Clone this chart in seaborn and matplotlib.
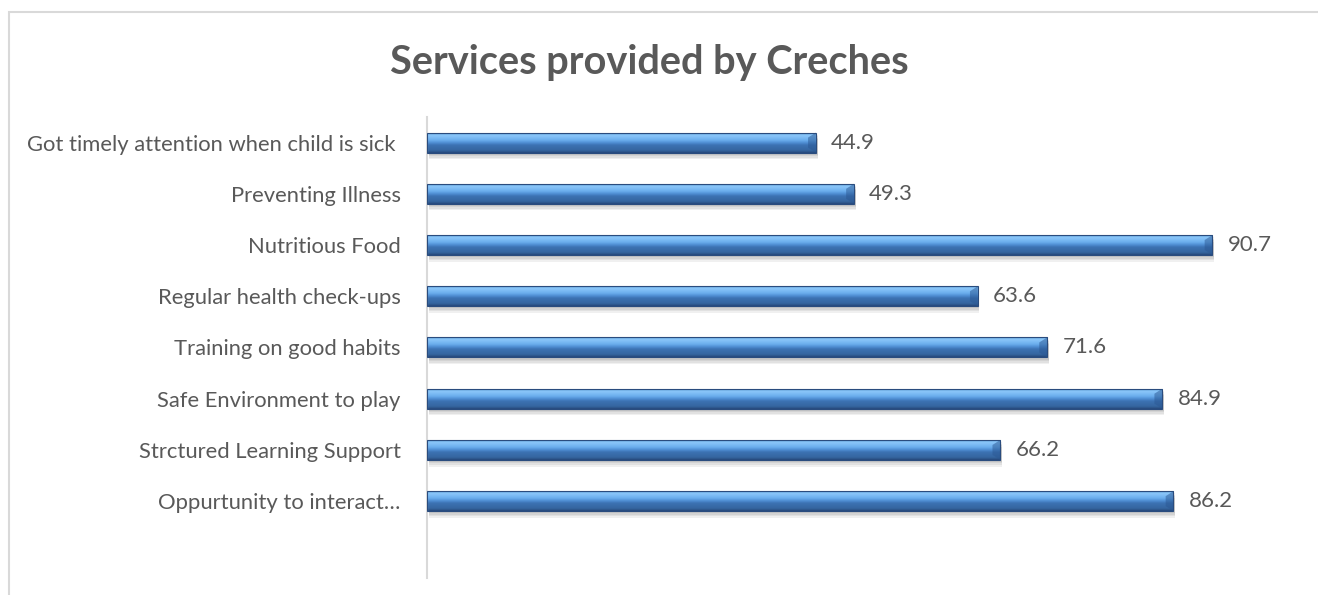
import numpy as np
import pandas as pd
import matplotlib.pyplot as plt
import matplotlib.patches as mpatches
from matplotlib.colors import LinearSegmentedColormap
import seaborn as sns

services = [
    "Got timely attention when child is sick ",
    "Preventing Illness",
    "Nutritious Food",
    "Regular health check-ups",
    "Training on good habits",
    "Safe Environment to play",
    "Strctured Learning Support",
    "Oppurtunity to interact\u2026",
]
percent = [44.9, 49.3, 90.7, 63.6, 71.6, 84.9, 66.2, 86.2]

df = pd.DataFrame({"Service": services, "Percent": percent})

sns.set_theme(style="white")
plt.rcParams["font.family"] = ["Lato", "DejaVu Sans"]
text_grey = "#595959"

fig = plt.figure(figsize=(13.18, 5.95), dpi=100)
ax = fig.add_axes([0.324, 0.0286, 0.657, 0.7748])

sns.barplot(data=df, y="Service", x="Percent", orient="h", width=0.39,
            color="#4F81BD", edgecolor="#2A4C7E", linewidth=0.8, ax=ax)

# gradient fill + soft shadow for a bevelled look
grad_cmap = LinearSegmentedColormap.from_list(
    "bevel", [(0.0, "#5B9BD5"), (0.1, "#8DC8FA"), (0.35, "#6BAEEE"),
              (0.5, "#4C8BD0"), (0.6, "#3C72B3"), (0.88, "#35659F"),
              (1.0, "#26487A")])
grad = np.linspace(0, 1, 80).reshape(-1, 1)
for bar in list(ax.patches):
    x, y = bar.get_x(), bar.get_y()
    w, h = bar.get_width(), bar.get_height()
    for k in range(4):
        off = 0.04 + 0.03 * k
        shadow = mpatches.Rectangle((x + 0.2, y + off), w, h, facecolor="#000000",
                                    alpha=0.06, edgecolor="none", zorder=1)
        ax.add_patch(shadow)
    im = ax.imshow(grad, extent=[x, x + w, y + h, y], aspect="auto",
                   cmap=grad_cmap, zorder=2, interpolation="bicubic")
    im.set_clip_path(bar)
    bar.set_facecolor("none")
    bar.set_zorder(3)
    # dark bevel at the right end
    tip = mpatches.Polygon([[x + w - 0.9, y + h * 0.25], [x + w, y], [x + w, y + h],
                            [x + w - 0.9, y + h * 0.75]],
                           closed=True, facecolor="#2B5792", alpha=0.5,
                           edgecolor="none", zorder=2.5)
    ax.add_patch(tip)

ax.bar_label(ax.containers[0], fmt="%.1f", padding=11, fontsize=16, color=text_grey)

ax.set_xlim(0, 100)
ax.set_ylim(8.5, -0.5)
ax.set_xlabel("")
ax.set_ylabel("")
ax.set_xticks([])
ax.tick_params(axis="y", length=0, pad=19, labelsize=15.8, labelcolor=text_grey)
for side in ["top", "right", "bottom"]:
    ax.spines[side].set_visible(False)
ax.spines["left"].set_color("#D9D9D9")
ax.spines["left"].set_linewidth(1.5)

fig.text(0.493, 0.895, "Services provided by Creches", ha="center", va="center",
         fontsize=28.6, fontweight="bold", color=text_grey)

# chart area border
frame = mpatches.Rectangle((9 / 1318, -0.1), 1.2, 1 - 12 / 595 + 0.1,
                           transform=fig.transFigure, facecolor="none",
                           edgecolor="#D9D9D9", linewidth=1.5)
fig.patches.append(frame)

fig.savefig("out.png", dpi=100)
